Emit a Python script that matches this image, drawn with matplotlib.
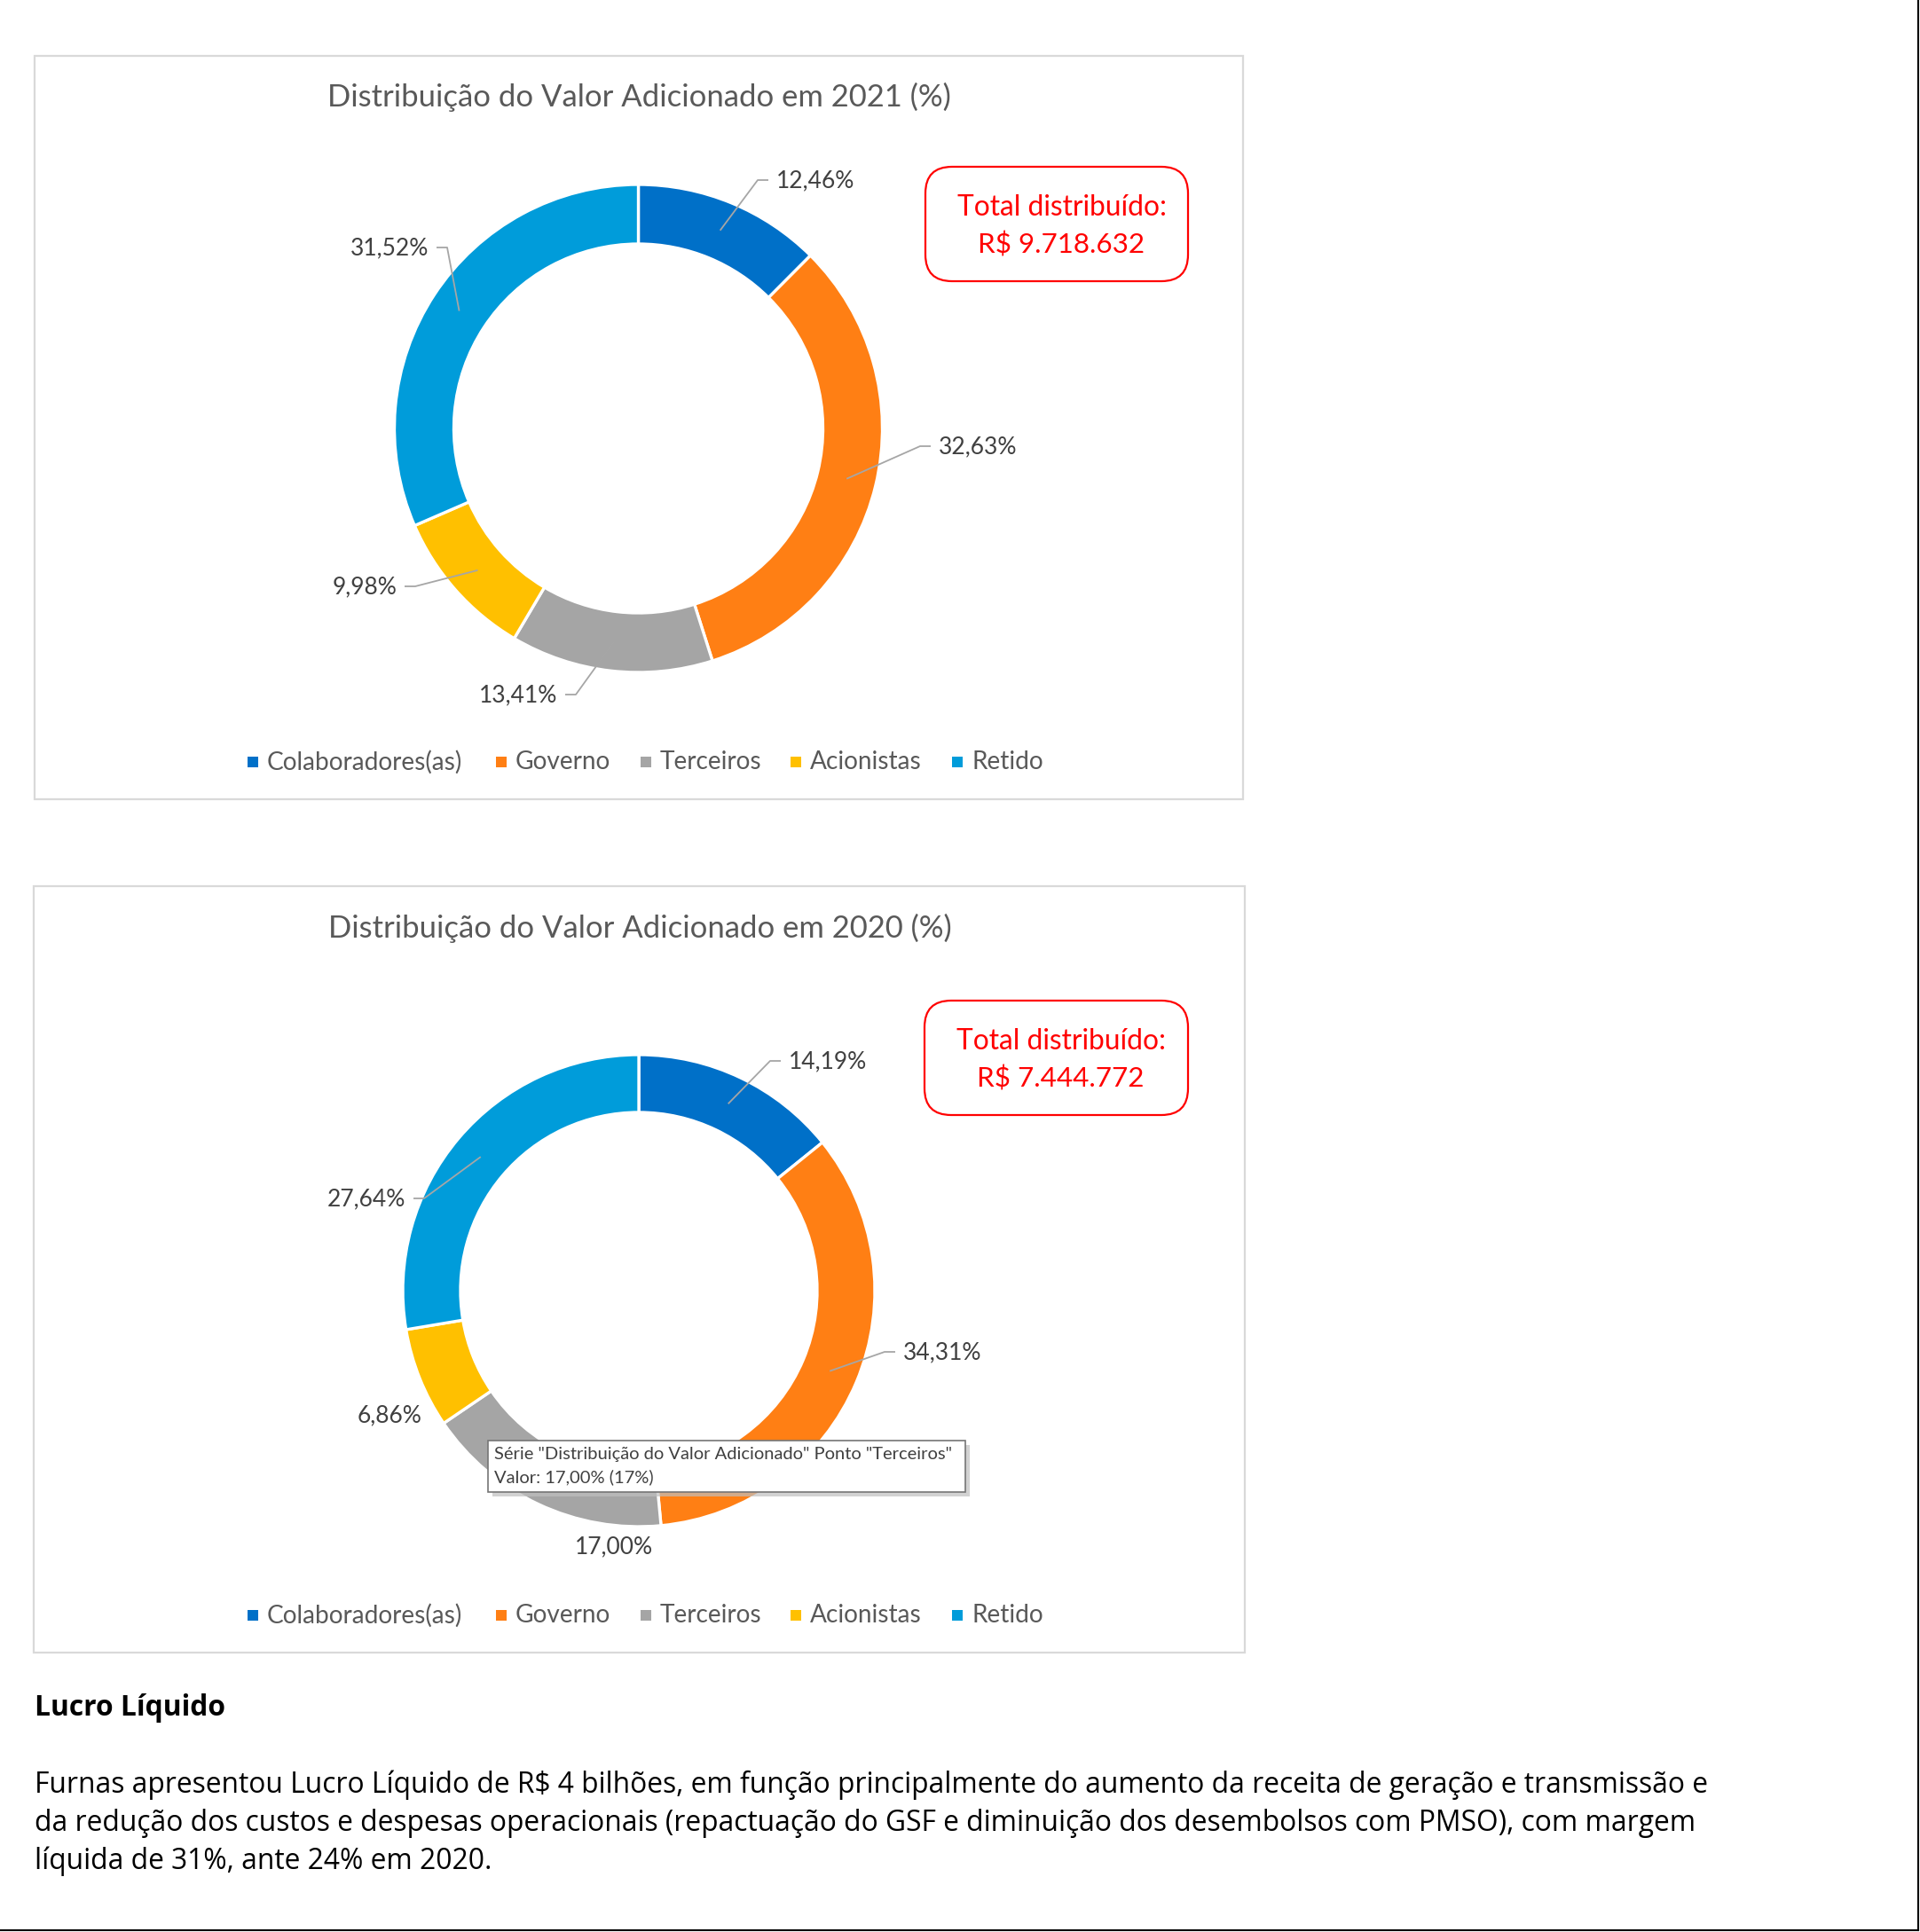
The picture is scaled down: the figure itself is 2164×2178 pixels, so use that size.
import numpy as np
import matplotlib.pyplot as plt
from matplotlib.patches import FancyBboxPatch, Rectangle

# data
categories = ['Colaboradores(as)', 'Governo', 'Terceiros', 'Acionistas', 'Retido']
values2021 = [12.46, 32.63, 13.41, 9.98, 31.52]
values2020 = [14.19, 34.31, 17.00, 6.86, 27.64]
labels2021 = ['12,46%', '32,63%', '13,41%', '9,98%', '31,52%']
labels2020 = ['14,19%', '34,31%', '17,00%', '6,86%', '27,64%']
totals = ['R$ 9.718.632', 'R$ 7.444.772']
titles = ['Distribuição do Valor Adicionado em 2021 (%)',
          'Distribuição do Valor Adicionado em 2020 (%)']

colors = ['#0070C8', '#FF7F14', '#A5A5A5', '#FFC000', '#009CDA']

W, H = 2164, 2178
def Y(y):
    return H - y

plt.rcParams['font.family'] = ['Lato', 'DejaVu Sans']

fig = plt.figure(figsize=(W / 100, H / 100), dpi=100)
ax = fig.add_axes([0, 0, 1, 1])

# layout of the two chart panels (pixel coords, y down)
panels = [
    dict(frame=(39, 63, 1401, 901), title_y=109, cx=719.5, cy=483, R=275, r=208,
         box=(1043, 188, 1339, 317), legend_y=859,
         # label x, label y, ha, leader
         lab=[(875, 204, 'left', True), (1058, 504, 'left', True), (628, 784, 'right', True),
              (447, 662, 'right', True), (483, 280, 'right', True)]),
    dict(frame=(38, 999, 1403, 1863), title_y=1046, cx=720, cy=1455, R=266, r=201,
         box=(1042, 1128, 1339, 1257), legend_y=1821,
         lab=[(889, 1197, 'left', True), (1018, 1525, 'left', True), (692, 1744, 'center', False),
              (475, 1596, 'right', False), (457, 1352, 'right', True)]),
]
allValues = [values2021, values2020]
allLabels = [labels2021, labels2020]

legendMarkX = [285, 565, 728, 897, 1079]

for i, p in enumerate(panels):
    x0, y0, x1, y1 = p['frame']
    ax.add_patch(Rectangle((x0, Y(y1)), x1 - x0, y1 - y0, fill=False,
                           edgecolor='#D9D9D9', linewidth=1.6))
    ax.text((x0 + x1) / 2 + 0.5, Y(p['title_y']), titles[i], fontsize=24.9,
            color='#595959', ha='center', va='center')

    vals = allValues[i]
    ax.pie(vals, colors=colors, startangle=90, counterclock=False, radius=p['R'],
           center=(p['cx'], Y(p['cy'])), frame=True,
           wedgeprops=dict(width=p['R'] - p['r'], edgecolor='white', linewidth=2.4))

    # data labels with leader lines
    cum = np.cumsum([0] + vals[:-1])
    rm = (p['R'] + p['r']) / 2
    for j, (tx, ty, ha, leader) in enumerate(p['lab']):
        if leader:
            ang = np.deg2rad(90 - 360 * (cum[j] + vals[j] / 2) / 100)
            axp = p['cx'] + rm * np.cos(ang)
            ayp = Y(p['cy']) + rm * np.sin(ang)
            sgn = -1 if ha == 'left' else 1
            ex = tx + sgn * 21
            ax.plot([axp, ex, tx + sgn * 9], [ayp, Y(ty - 1), Y(ty - 1)], color='#A6A6A6',
                    linewidth=1.3, solid_capstyle='butt')
        ax.text(tx, Y(ty), allLabels[i][j], fontsize=19, color='#404040', ha=ha, va='center')

    # total box
    bx0, by0, bx1, by1 = p['box']
    ax.add_patch(FancyBboxPatch((bx0 + 30, Y(by1) + 30), bx1 - bx0 - 60, by1 - by0 - 60,
                                boxstyle='round,pad=30', facecolor='white',
                                edgecolor='#FF0000', linewidth=1.6))
    bcx = (bx0 + bx1) / 2
    ax.text(bcx + 6, Y(by0 + 46), 'Total distribuído:', fontsize=22.9, color='#FF0000',
            ha='center', va='center')
    ax.text(bcx + 5, Y(by0 + 88), totals[i], fontsize=22.6, color='#FF0000',
            ha='center', va='center')

    # legend
    for j, name in enumerate(categories):
        ax.scatter([legendMarkX[j]], [Y(p['legend_y'])], marker='s', s=70, color=colors[j],
                   linewidths=0)
        ax.text(legendMarkX[j] + 16, Y(p['legend_y']), name, fontsize=20.2, color='#595959',
                ha='left', va='center')

# tooltip on the 2020 chart
tx0, ty0, tx1, ty1 = 550, 1624, 1088, 1682
ax.add_patch(Rectangle((tx0 + 5, Y(ty1) - 5), tx1 - tx0, ty1 - ty0, facecolor='#BFBFBF',
                       edgecolor='none', alpha=0.7))
ax.add_patch(Rectangle((tx0, Y(ty1)), tx1 - tx0, ty1 - ty0, facecolor='white',
                       edgecolor='#767676', linewidth=1.2))
ax.text(tx0 + 7, Y(1639), 'Série "Distribuição do Valor Adicionado" Ponto "Terceiros"',
        fontsize=14.5, color='#404040', ha='left', va='center')
ax.text(tx0 + 7, Y(1665), 'Valor: 17,00% (17%)', fontsize=14.5, color='#404040',
        ha='left', va='center')

# text below the charts
ax.text(39, Y(1925), 'Lucro Líquido', fontsize=22.9, fontweight='bold', color='black',
        family='Open Sans', ha='left', va='center')
bodyLines = [
    'Furnas apresentou Lucro Líquido de R$ 4 bilhões, em função principalmente do aumento da receita de geração e transmissão e',
    'da redução dos custos e despesas operacionais (repactuação do GSF e diminuição dos desembolsos com PMSO), com margem',
    'líquida de 31%, ante 24% em 2020.',
]
for k, line in enumerate(bodyLines):
    ax.text(39, Y(2012 + 43 * k), line, fontsize=22.9, color='black', family='Open Sans',
            ha='left', va='center')

# page border at right and bottom
ax.plot([2162, 2162], [Y(0), Y(2176)], color='black', linewidth=1.5)
ax.plot([0, 2162], [Y(2176), Y(2176)], color='black', linewidth=1.5)

ax.set_xlim(0, W)
ax.set_ylim(0, H)
ax.set_aspect('auto')
ax.axis('off')

fig.savefig('out.png', dpi=100, facecolor='white')
